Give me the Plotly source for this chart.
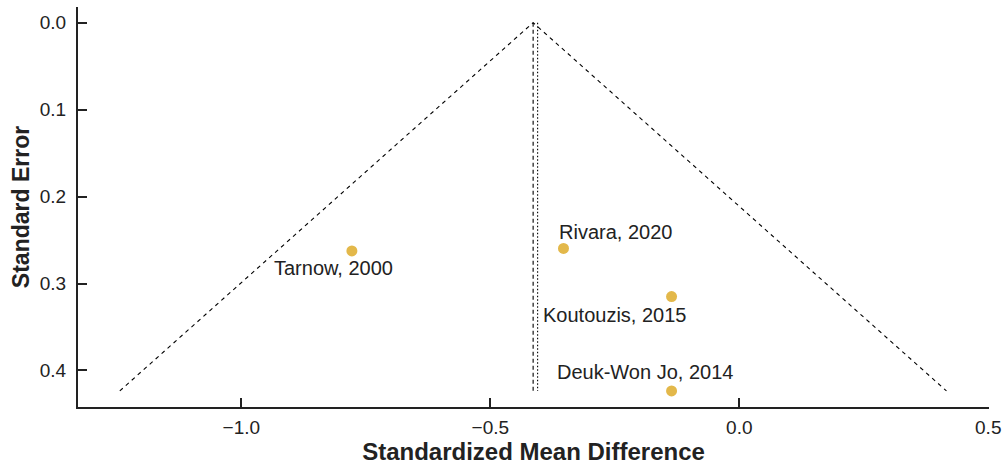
import plotly.graph_objects as go

studies = ["Tarnow, 2000", "Rivara, 2020", "Koutouzis, 2015", "Deuk-Won Jo, 2014"]
smd = [-0.778, -0.353, -0.136, -0.136]
se = [0.2625, 0.2597, 0.3150, 0.4235]
pooled_fixed = -0.414
pooled_random = -0.405
x_ticks = [-1.0, -0.5, 0.0, 0.5]
y_ticks = [0.0, 0.1, 0.2, 0.3, 0.4]

# label offsets (pixels) for each study label
label_dx = [-18, 52, -57, -27]
label_dy = [-17, 16, -18, 19]

se_max = max(se)
font = "Arial, Liberation Sans, Helvetica, sans-serif"

fig = go.Figure()
# funnel
fig.add_trace(go.Scatter(
    x=[pooled_fixed - 1.96 * se_max, pooled_fixed, pooled_fixed + 1.96 * se_max],
    y=[se_max, 0, se_max], mode="lines",
    line=dict(color="black", width=1.1, dash="4px,4px"), hoverinfo="skip"))
fig.add_trace(go.Scatter(
    x=[pooled_fixed, pooled_fixed], y=[0, se_max], mode="lines",
    line=dict(color="black", width=1.1, dash="4px,3px"), hoverinfo="skip"))
fig.add_trace(go.Scatter(
    x=[pooled_random, pooled_random], y=[0, se_max], mode="lines",
    line=dict(color="black", width=1.1, dash="1.5px,2px"), hoverinfo="skip"))
fig.add_trace(go.Scatter(
    x=smd, y=se, mode="markers",
    marker=dict(color="#E3B84A", size=11), hoverinfo="skip"))

for s, xv, yv, dx, dy in zip(studies, smd, se, label_dx, label_dy):
    fig.add_annotation(x=xv, y=yv, text=s, showarrow=False,
                       xshift=dx, yshift=dy,
                       font=dict(family=font, size=20, color="#222222"))

fig.update_layout(
    width=1003, height=470,
    margin=dict(l=78, r=14, t=7, b=63),
    plot_bgcolor="white", paper_bgcolor="white",
    showlegend=False,
    font=dict(family=font, size=19, color="#222222"),
)
fig.update_xaxes(
    range=[-1.328, 0.5015], tickvals=x_ticks, ticktext=["\u22121.0", "\u22120.5", "0.0", "0.5"],
    showgrid=False, zeroline=False, showline=True, linecolor="#222222", linewidth=2,
    ticks="inside", ticklen=9, tickwidth=2, tickcolor="#222222",
    ticklabelstandoff=2, ticklabeloverflow="allow", automargin=False,
    title=dict(text="<b>Standardized Mean Difference</b>", font=dict(size=24), standoff=3),
)
fig.update_yaxes(
    range=[0.442, -0.018], tickvals=y_ticks, ticktext=["0.0", "0.1", "0.2", "0.3", "0.4"],
    showgrid=False, zeroline=False, showline=True, linecolor="#222222", linewidth=2,
    ticks="inside", ticklen=9, tickwidth=2, tickcolor="#222222",
    ticklabelstandoff=6, automargin=False,
    title=dict(text="<b>Standard Error</b>", font=dict(size=23), standoff=4),
)

fig.write_html("out.html",
               config={"displayModeBar": False},
               post_script="document.body.style.margin='0';document.body.style.overflow='hidden';")
